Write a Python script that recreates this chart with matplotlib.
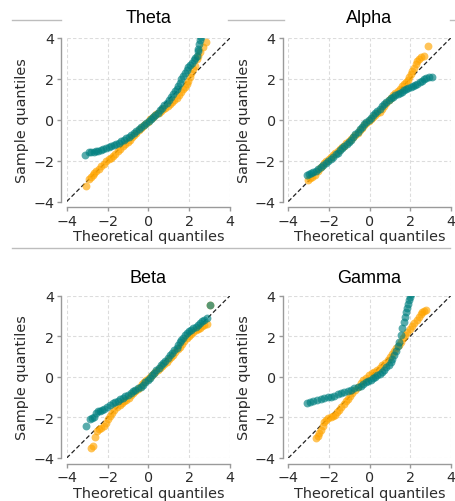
import numpy as np
import matplotlib.pyplot as plt
from matplotlib.lines import Line2D

# QQ plot points per band: (theoretical quantile, sample quantile)
theta_teal = [(-3.08, -1.74), (-2.90, -1.60), (-2.80, -1.57), (-2.68, -1.56), (-2.56, -1.54),
              (-2.45, -1.52), (-2.33, -1.49), (-2.20, -1.44), (-2.07, -1.38), (-1.95, -1.34),
              (-1.82, -1.29), (-1.70, -1.24), (-1.57, -1.18), (-1.45, -1.12), (-1.32, -1.05),
              (-1.20, -0.98), (-1.08, -0.89), (-0.95, -0.82), (-0.83, -0.73), (-0.71, -0.66),
              (-0.59, -0.56), (-0.47, -0.46), (-0.35, -0.36), (-0.22, -0.26), (-0.10, -0.15),
              (0.02, -0.04), (0.13, 0.04), (0.23, 0.13), (0.35, 0.24), (0.46, 0.35),
              (0.56, 0.46), (0.67, 0.58), (0.78, 0.71), (0.89, 0.84), (1.00, 0.98),
              (1.10, 1.11), (1.21, 1.25), (1.30, 1.39), (1.38, 1.52), (1.46, 1.66),
              (1.54, 1.82), (1.62, 1.98), (1.70, 2.15), (1.78, 2.28), (1.87, 2.42),
              (1.95, 2.56), (2.05, 2.70), (2.14, 2.80), (2.22, 2.90), (2.30, 3.02),
              (2.36, 3.13), (2.41, 3.35), (2.45, 3.48), (2.50, 3.70), (2.55, 3.90), (2.60, 4.05)]
theta_orange = [(-3.05, -3.26), (-2.92, -2.89), (-2.82, -2.78), (-2.72, -2.69), (-2.64, -2.60),
                (-2.56, -2.52), (-2.44, -2.40), (-2.31, -2.28), (-2.19, -2.15), (-2.07, -2.03),
                (-1.95, -1.94), (-1.84, -1.86), (-1.74, -1.79), (-1.62, -1.67), (-1.49, -1.54),
                (-1.37, -1.42), (-1.25, -1.30), (-1.13, -1.18), (-1.02, -1.07), (-0.92, -0.97),
                (-0.80, -0.85), (-0.69, -0.74), (-0.59, -0.64), (-0.47, -0.52), (-0.36, -0.41),
                (-0.26, -0.31), (-0.15, -0.20), (-0.04, -0.09), (0.07, 0.02), (0.17, 0.10),
                (0.28, 0.18), (0.39, 0.26), (0.50, 0.34), (0.61, 0.42), (0.72, 0.51),
                (0.83, 0.59), (0.94, 0.67), (1.05, 0.75), (1.16, 0.85), (1.27, 0.96),
                (1.38, 1.08), (1.49, 1.22), (1.60, 1.35), (1.70, 1.49), (1.78, 1.62),
                (1.87, 1.76), (1.95, 1.90), (2.03, 2.10), (2.11, 2.31), (2.20, 2.48),
                (2.28, 2.64), (2.36, 2.97), (2.44, 3.12), (2.52, 3.30), (2.66, 3.54), (2.83, 3.82)]

alpha_teal = [(-3.08, -2.72), (-2.98, -2.64), (-2.89, -2.61), (-2.76, -2.55), (-2.64, -2.49),
              (-2.52, -2.42), (-2.39, -2.33), (-2.27, -2.22), (-2.15, -2.11), (-2.03, -2.01),
              (-1.90, -1.90), (-1.78, -1.80), (-1.66, -1.70), (-1.57, -1.62), (-1.45, -1.50),
              (-1.35, -1.40), (-1.25, -1.30), (-1.13, -1.17), (-1.02, -1.07), (-0.92, -0.97),
              (-0.80, -0.83), (-0.69, -0.71), (-0.59, -0.59), (-0.48, -0.46), (-0.37, -0.34),
              (-0.26, -0.23), (-0.15, -0.11), (-0.04, 0.00), (0.07, 0.10), (0.18, 0.21),
              (0.29, 0.32), (0.39, 0.43), (0.50, 0.54), (0.61, 0.65), (0.72, 0.75),
              (0.83, 0.86), (0.94, 0.96), (1.05, 1.05), (1.16, 1.12), (1.27, 1.19),
              (1.38, 1.25), (1.49, 1.31), (1.60, 1.38), (1.70, 1.44), (1.81, 1.50),
              (1.92, 1.56), (2.03, 1.61), (2.14, 1.66), (2.25, 1.72), (2.36, 1.77),
              (2.47, 1.84), (2.58, 1.91), (2.69, 1.98), (2.80, 2.05), (2.93, 2.10), (3.10, 2.10)]
alpha_orange = [(-3.05, -2.93), (-2.95, -2.86), (-2.85, -2.82), (-2.70, -2.68), (-2.56, -2.52),
                (-2.45, -2.38), (-2.34, -2.25), (-2.23, -2.11), (-2.12, -2.02), (-2.01, -1.94),
                (-1.90, -1.84), (-1.79, -1.74), (-1.68, -1.64), (-1.57, -1.54), (-1.46, -1.44),
                (-1.35, -1.35), (-1.25, -1.26), (-1.14, -1.16), (-1.03, -1.05), (-0.92, -0.95),
                (-0.81, -0.84), (-0.70, -0.74), (-0.59, -0.64), (-0.48, -0.51), (-0.37, -0.38),
                (-0.26, -0.26), (-0.15, -0.14), (-0.04, -0.04), (0.07, 0.02), (0.18, 0.12),
                (0.29, 0.22), (0.39, 0.32), (0.50, 0.40), (0.61, 0.52), (0.72, 0.66),
                (0.83, 0.80), (0.94, 0.95), (1.05, 1.08), (1.16, 1.19), (1.27, 1.30),
                (1.38, 1.41), (1.49, 1.52), (1.60, 1.63), (1.70, 1.74), (1.80, 1.86),
                (1.88, 1.96), (1.95, 2.07), (2.03, 2.22), (2.11, 2.39), (2.20, 2.55),
                (2.28, 2.72), (2.36, 2.86), (2.44, 2.97), (2.56, 3.05), (2.69, 3.13), (2.89, 3.62)]

beta_teal = [(-3.05, -2.43), (-2.85, -2.07), (-2.74, -2.05), (-2.64, -2.00), (-2.56, -1.80),
             (-2.48, -1.70), (-2.38, -1.66), (-2.27, -1.63), (-2.15, -1.57), (-2.02, -1.50),
             (-1.88, -1.40), (-1.74, -1.30), (-1.62, -1.24), (-1.50, -1.17), (-1.37, -1.10),
             (-1.25, -1.02), (-1.12, -0.94), (-1.00, -0.87), (-0.87, -0.80), (-0.75, -0.72),
             (-0.63, -0.65), (-0.50, -0.57), (-0.38, -0.48), (-0.26, -0.39), (-0.15, -0.27),
             (-0.04, -0.15), (0.07, -0.07), (0.18, 0.08), (0.29, 0.21), (0.39, 0.34),
             (0.50, 0.45), (0.61, 0.56), (0.72, 0.67), (0.83, 0.80), (0.94, 0.94),
             (1.05, 1.08), (1.16, 1.19), (1.27, 1.30), (1.38, 1.41), (1.47, 1.58),
             (1.55, 1.72), (1.62, 1.82), (1.70, 1.93), (1.78, 2.04), (1.87, 2.15),
             (1.98, 2.24), (2.09, 2.32), (2.20, 2.39), (2.31, 2.47), (2.42, 2.55),
             (2.52, 2.64), (2.63, 2.73), (2.74, 2.81), (2.85, 2.89), (3.02, 3.56)]
beta_orange = [(-2.80, -3.51), (-2.69, -3.43), (-2.61, -2.97), (-2.52, -2.66), (-2.44, -2.58),
               (-2.31, -2.52), (-2.19, -2.40), (-2.07, -2.28), (-1.98, -2.10), (-1.90, -1.95),
               (-1.78, -1.78), (-1.66, -1.62), (-1.53, -1.50), (-1.41, -1.38), (-1.30, -1.29),
               (-1.19, -1.21), (-1.08, -1.13), (-0.97, -1.02), (-0.86, -0.91), (-0.75, -0.80),
               (-0.64, -0.69), (-0.53, -0.59), (-0.43, -0.48), (-0.32, -0.37), (-0.21, -0.26),
               (-0.10, -0.15), (0.01, -0.05), (0.12, 0.04), (0.23, 0.13), (0.34, 0.23),
               (0.45, 0.33), (0.56, 0.43), (0.67, 0.54), (0.78, 0.64), (0.89, 0.75),
               (1.00, 0.86), (1.10, 0.97), (1.21, 1.08), (1.32, 1.22), (1.43, 1.35),
               (1.54, 1.49), (1.65, 1.63), (1.76, 1.77), (1.87, 1.90), (1.98, 2.01),
               (2.09, 2.12), (2.20, 2.23), (2.31, 2.30), (2.42, 2.37), (2.52, 2.43),
               (2.63, 2.50), (2.74, 2.55), (2.85, 2.59), (3.02, 3.56)]

gamma_teal = [(-3.08, -1.31), (-2.95, -1.24), (-2.80, -1.18), (-2.60, -1.13), (-2.39, -1.08),
              (-2.22, -1.04), (-2.06, -1.00), (-1.90, -0.97), (-1.74, -0.92), (-1.57, -0.86),
              (-1.41, -0.80), (-1.25, -0.75), (-1.08, -0.69), (-0.92, -0.64), (-0.76, -0.57),
              (-0.59, -0.50), (-0.43, -0.43), (-0.30, -0.35), (-0.17, -0.27), (-0.05, -0.20),
              (0.07, -0.15), (0.18, -0.07), (0.29, 0.00), (0.39, 0.07), (0.50, 0.15),
              (0.61, 0.24), (0.72, 0.34), (0.83, 0.47), (0.94, 0.60), (1.05, 0.75),
              (1.13, 0.90), (1.22, 1.07), (1.30, 1.25), (1.38, 1.50), (1.46, 1.74),
              (1.54, 2.05), (1.62, 2.39), (1.68, 2.68), (1.74, 2.97), (1.79, 3.18),
              (1.84, 3.38), (1.90, 3.60), (1.95, 3.79), (2.00, 3.95), (2.05, 4.10)]
gamma_orange = [(-2.64, -3.02), (-2.56, -2.90), (-2.48, -2.77), (-2.40, -2.60), (-2.31, -2.44),
                (-2.23, -2.25), (-2.15, -2.11), (-2.02, -2.04), (-1.92, -2.00), (-1.82, -1.95),
                (-1.72, -1.86), (-1.60, -1.74), (-1.49, -1.62), (-1.38, -1.48), (-1.27, -1.35),
                (-1.16, -1.21), (-1.06, -1.07), (-0.95, -0.94), (-0.84, -0.80), (-0.70, -0.64),
                (-0.57, -0.48), (-0.43, -0.31), (-0.30, -0.17), (-0.16, -0.05), (-0.03, 0.07),
                (0.10, 0.17), (0.23, 0.26), (0.36, 0.36), (0.50, 0.46), (0.63, 0.57),
                (0.76, 0.70), (0.89, 0.84), (1.00, 0.98), (1.11, 1.11), (1.21, 1.25),
                (1.32, 1.42), (1.43, 1.58), (1.54, 1.74), (1.65, 1.91), (1.76, 2.07),
                (1.87, 2.23), (1.98, 2.37), (2.09, 2.50), (2.20, 2.64), (2.32, 2.81),
                (2.44, 2.97), (2.52, 3.10), (2.61, 3.21), (2.69, 3.26), (2.77, 3.30)]

titles = ["Theta", "Alpha", "Beta", "Gamma"]
bands = [(theta_orange, theta_teal), (alpha_orange, alpha_teal),
         (beta_orange, beta_teal), (gamma_orange, gamma_teal)]
ticks = [-4, -2, 0, 2, 4]

fig = plt.figure(figsize=(4.55, 5.02), dpi=100)
W, H = 455, 502
# axes boxes in pixels: left, top, right, bottom
boxes = [(66.7, 39, 230, 202.5), (288.3, 39, 450.7, 202.5),
         (66.7, 296.7, 230, 459), (288.3, 296.7, 450.7, 459)]
title_pads = [11.3, 11.3, 10, 10]

# faint rules left over from the surrounding layout
for y, segs in [(21, [(12, 61), (228, 284), (450, 455)]), (249.3, [(12, 450)])]:
    for x0, x1 in segs:
        fig.add_artist(Line2D([x0 / W, x1 / W], [1 - y / H, 1 - y / H],
                              color="#bdbdbd", lw=1.0))

for (l, t, r, b), title, (orange, teal), pad in zip(boxes, titles, bands, title_pads):
    ax = fig.add_axes([l / W, 1 - b / H, (r - l) / W, (b - t) / H])
    ox, oy = zip(*orange)
    tx, ty = zip(*teal)
    # reference line sits underneath the points
    ax.plot([-4, 4], [-4, 4], ls="--", color="#222222", lw=0.9, dashes=(3.5, 2), zorder=1.5)
    ax.scatter(ox, oy, s=32, color="orange", alpha=0.65, linewidths=0, zorder=2)
    ax.scatter(tx, ty, s=32, color="teal", alpha=0.65, linewidths=0, zorder=2)

    ax.set_xlim(-4, 4)
    ax.set_ylim(-4, 4)
    ax.set_xticks(ticks)
    ax.set_yticks(ticks)
    ax.grid(True, ls="--", color="#dcdcdc", lw=0.8, dashes=(3, 2))
    ax.set_axisbelow(True)

    for side in ["top", "right"]:
        ax.spines[side].set_visible(False)
    for side in ["left", "bottom"]:
        ax.spines[side].set_position(("outward", 4))
        ax.spines[side].set_bounds(-4, 4)
        ax.spines[side].set_color("#9a9a9a")
        ax.spines[side].set_linewidth(1.0)
    ax.tick_params(colors="#9a9a9a", labelcolor="#2b2b2b", length=3, width=1,
                   labelsize=10.3, pad=2)

    ax.set_xlabel("Theoretical quantiles", fontsize=10.4, color="#2b2b2b", labelpad=1)
    ax.set_ylabel("Sample quantiles", fontsize=10.4, color="#2b2b2b", labelpad=3)
    ax.set_title(title, fontsize=13, family="Liberation Sans", pad=pad)

plt.savefig("out.png", dpi=100)
